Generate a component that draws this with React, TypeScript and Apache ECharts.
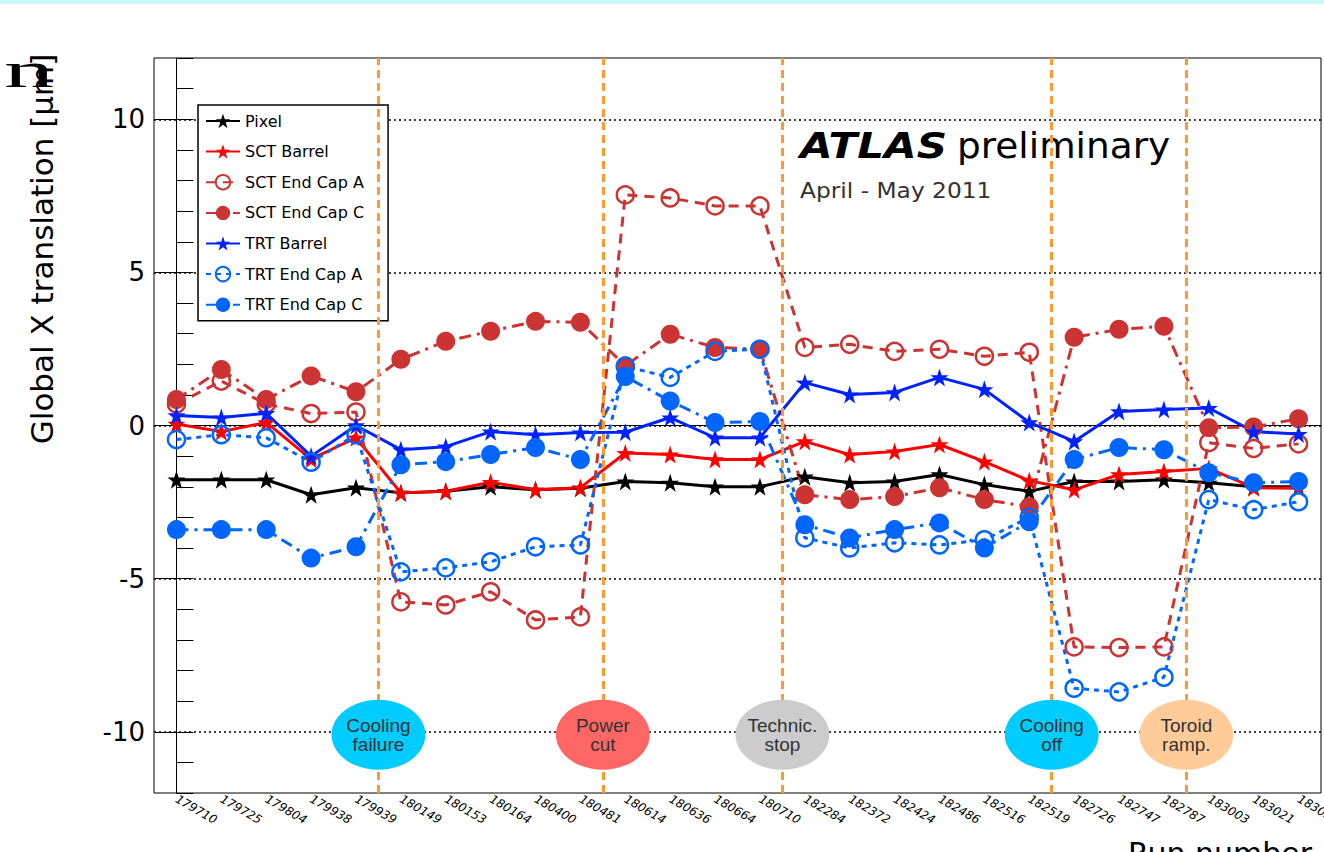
import React, { useEffect, useRef } from 'react';
import * as echarts from 'echarts';

const runNumbers = ['179710','179725','179804','179938','179939','180149','180153','180164','180400','180481','180614','180636','180664','180710','182284','182372','182424','182486','182516','182519','182726','182747','182787','183003','183021','183038'];

const seriesNames = ['Pixel','SCT Barrel','SCT End Cap A','SCT End Cap C','TRT Barrel','TRT End Cap A','TRT End Cap C'];

const pixel = [-1.77,-1.77,-1.77,-2.26,-2.03,-2.2,-2.15,-2.0,-2.1,-2.05,-1.83,-1.87,-2.0,-2.0,-1.67,-1.87,-1.83,-1.6,-1.93,-2.15,-1.83,-1.83,-1.77,-1.87,-2.0,-2.0];
const sctBarrel = [0.05,-0.2,0.1,-1.1,-0.4,-2.2,-2.15,-1.85,-2.1,-2.03,-0.9,-0.95,-1.11,-1.11,-0.52,-0.95,-0.85,-0.62,-1.18,-1.8,-2.1,-1.6,-1.5,-1.4,-2.03,-2.05];
const sctEndCapA = [0.7,1.45,0.7,0.39,0.44,-5.76,-5.86,-5.43,-6.35,-6.25,7.53,7.43,7.17,7.17,2.55,2.65,2.42,2.49,2.26,2.39,-7.23,-7.25,-7.23,-0.56,-0.75,-0.6];
const sctEndCapC = [0.85,1.83,0.85,1.62,1.1,2.16,2.75,3.08,3.4,3.37,1.95,2.98,2.55,2.49,-2.26,-2.42,-2.32,-2.03,-2.42,-2.65,2.88,3.14,3.24,-0.07,-0.05,0.22];
const trtBarrel = [0.33,0.26,0.4,-1.0,0.0,-0.79,-0.69,-0.2,-0.3,-0.23,-0.22,0.26,-0.4,-0.4,1.4,1.01,1.08,1.57,1.18,0.1,-0.52,0.46,0.52,0.57,-0.2,-0.28];
const trtEndCapA = [-0.46,-0.3,-0.4,-1.2,-0.3,-4.78,-4.65,-4.45,-3.96,-3.9,1.93,1.57,2.42,2.49,-3.67,-4.0,-3.83,-3.9,-3.73,-3.0,-8.58,-8.7,-8.22,-2.42,-2.75,-2.49];
const trtEndCapC = [-3.4,-3.4,-3.4,-4.33,-3.96,-1.28,-1.18,-0.95,-0.72,-1.11,1.6,0.8,0.1,0.13,-3.24,-3.67,-3.4,-3.18,-4.0,-3.14,-1.11,-0.72,-0.79,-1.54,-1.87,-1.83];

const majorTicks = [-10, -5, 0, 5, 10];
const eventPositions = [4.5, 9.5, 13.5, 19.5, 22.5];
const eventLabels = ['Cooling\nfailure', 'Power\ncut', 'Technic.\nstop', 'Cooling\noff', 'Toroid\nramp.'];
const eventColors = ['#00ccff', '#ff6666', '#cccccc', '#00ccff', '#ffcc99'];
const eventLabelY = -10.1;

const STAR = 'path://M50,2 L61.8,36.2 L97.6,36.2 L68.6,57.4 L79.4,91.6 L50,70.6 L20.6,91.6 L31.4,57.4 L2.4,36.2 L38.2,36.2 Z';
const FONT = 'DejaVu Sans';

function makeSeries(name: string, data: number[], color: string, kind: 'star' | 'open' | 'filled', lineType: any) {
  const base: any = {
    name,
    type: 'line',
    data,
    xAxisIndex: 0,
    yAxisIndex: 0,
    showAllSymbol: true,
    lineStyle: { color, width: 3, type: lineType },
    emphasis: { disabled: true },
  };
  if (kind === 'star') {
    base.symbol = STAR;
    base.symbolSize = 18;
    base.itemStyle = { color };
  } else if (kind === 'open') {
    base.symbol = 'circle';
    base.symbolSize = 17;
    base.itemStyle = { color: 'rgba(0,0,0,0)', borderColor: color, borderWidth: 2.5 };
  } else {
    base.symbol = 'circle';
    base.symbolSize = 19;
    base.itemStyle = { color };
  }
  return base;
}

export default function App() {
  const ref = useRef<HTMLDivElement>(null);
  useEffect(() => {
    if (!ref.current) return;
    const chart = echarts.init(ref.current, undefined, { renderer: 'svg' });
    const sctEC = '#cc3333';
    const trtEC = '#0066ff';
    const option: any = {
      animation: false,
      backgroundColor: '#ffffff',
      grid: { left: 154, top: 58, right: 3, bottom: 59, show: true, borderColor: '#000', borderWidth: 1, backgroundColor: 'transparent', containLabel: false, outerBoundsMode: 'none' },
      legend: {
        data: seriesNames,
        orient: 'vertical',
        left: 198,
        top: 105,
        itemWidth: 34,
        itemHeight: 18,
        itemGap: 14.5,
        padding: [8, 24, 8, 7],
        backgroundColor: '#fff',
        borderColor: '#000',
        borderWidth: 1.5,
        textStyle: { fontSize: 16, fontFamily: FONT, color: '#000' },
      },
      xAxis: [
        {
          type: 'category',
          data: runNumbers,
          boundaryGap: true,
          axisLine: { lineStyle: { color: '#000', width: 1 } },
          axisTick: { inside: true, length: 22, alignWithLabel: true, lineStyle: { color: '#000', width: 1 } },
          axisLabel: { interval: 0, rotate: -30, fontSize: 12, fontFamily: FONT, fontStyle: 'italic', color: '#000', margin: 5 },
          splitLine: { show: false },
        },
        { type: 'value', min: -0.5, max: 25.5, show: false },
      ],
      yAxis: [
        {
          type: 'value',
          min: -12,
          max: 12,
          interval: 1,
          axisLine: { show: true, lineStyle: { color: '#000', width: 1 } },
          axisTick: { show: true, inside: true, length: 17, lineStyle: { color: '#000', width: 1 } },
          axisLabel: { customValues: majorTicks, fontSize: 26, fontFamily: FONT, color: '#000', margin: 9 },
          splitLine: { show: false },
        },
        {
          type: 'value',
          min: -12,
          max: 12,
          position: 'left',
          offset: 0,
          axisLine: { show: false },
          axisTick: { show: true, inside: true, length: 34, customValues: majorTicks, lineStyle: { color: '#000', width: 1 } },
          axisLabel: { show: false },
          splitLine: { show: false },
        },
      ],
      series: [
        {
          name: 'grid',
          type: 'line',
          xAxisIndex: 1,
          yAxisIndex: 0,
          data: [],
          silent: true,
          markLine: {
            z: 1,
            silent: true,
            symbol: ['none', 'none'],
            label: { show: false },
            lineStyle: { color: '#000', width: 1.5, type: [2, 3] },
            data: majorTicks.map((v) => ({ yAxis: v })),
          },
        },
        makeSeries('Pixel', pixel, '#000000', 'star', 'solid'),
        makeSeries('SCT Barrel', sctBarrel, '#ff0000', 'star', 'solid'),
        makeSeries('SCT End Cap A', sctEndCapA, sctEC, 'open', [10, 7]),
        makeSeries('SCT End Cap C', sctEndCapC, sctEC, 'filled', [12, 6, 3, 6]),
        makeSeries('TRT Barrel', trtBarrel, '#0022ff', 'star', 'solid'),
        makeSeries('TRT End Cap A', trtEndCapA, trtEC, 'open', [5, 5]),
        makeSeries('TRT End Cap C', trtEndCapC, trtEC, 'filled', [12, 6, 3, 6]),
        {
          name: 'events',
          type: 'line',
          xAxisIndex: 1,
          yAxisIndex: 0,
          data: [],
          silent: true,
          markLine: {
            silent: true,
            symbol: ['none', 'none'],
            label: { show: false },
            lineStyle: { color: '#ff9933', width: 3, type: [8, 5] },
            data: eventPositions.map((x) => ({ xAxis: x })),
          },
          markPoint: {
            silent: true,
            symbol: 'circle',
            symbolSize: [94, 70],
            label: { show: true, position: 'inside', formatter: '{b}', fontSize: 19, lineHeight: 19, fontFamily: 'Liberation Sans', color: '#333' },
            data: eventPositions.map((x, i) => ({ coord: [x, eventLabelY], name: eventLabels[i], itemStyle: { color: eventColors[i] } })),
          },
        },
      ],
      graphic: [
        { type: 'rect', left: 0, top: 0, shape: { x: 0, y: 0, width: 1324, height: 4 }, style: { fill: '#c9fbfb' }, silent: true },
        { type: 'text', x: 54, y: 70, scaleX: 2, style: { text: 'n', fontSize: 50, fontFamily: 'Liberation Serif', fill: '#000', textAlign: 'right', textVerticalAlign: 'middle' } },
        { type: 'text', x: 42, y: 249, rotation: Math.PI / 2, style: { text: 'Global X translation [μm]', fontSize: 31, fontFamily: FONT, fill: '#000', textAlign: 'center', textVerticalAlign: 'middle' } },
        { type: 'text', x: 800, y: 146, scaleX: 1.17, style: { text: 'ATLAS', fontSize: 36, fontWeight: 'bold', fontStyle: 'italic', fontFamily: FONT, fill: '#000', textVerticalAlign: 'middle' } },
        { type: 'text', x: 957, y: 146, scaleX: 1.04, style: { text: 'preliminary', fontSize: 36, fontFamily: FONT, fill: '#000', textVerticalAlign: 'middle' } },
        { type: 'text', x: 800, y: 190, scaleX: 1.06, style: { text: 'April - May 2011', fontSize: 22, fontFamily: FONT, fill: '#333', textVerticalAlign: 'middle' } },
        { type: 'text', x: 1128, y: 838, style: { text: 'Run number', fontSize: 30, fontFamily: FONT, fill: '#000', textVerticalAlign: 'top' } },
      ],
    };
    chart.setOption(option);
    return () => chart.dispose();
  }, []);
  return <div ref={ref} style={{ position: 'absolute', left: 0, top: 0, width: 1324, height: 852, background: '#fff' }} />;
}
